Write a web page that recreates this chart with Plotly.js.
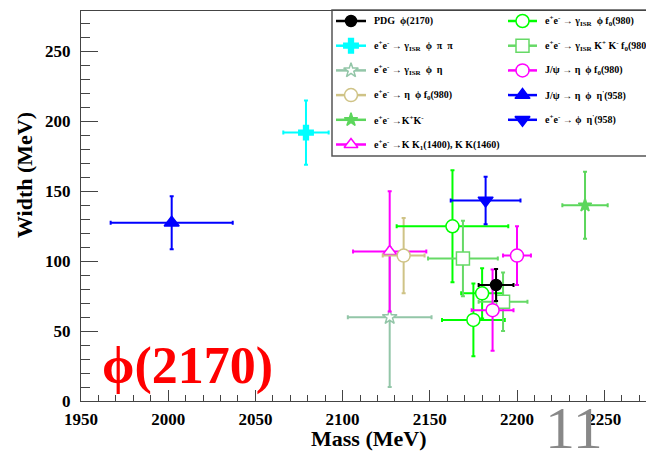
<!DOCTYPE html>
<html><head><meta charset="utf-8">
<script src="https://cdn.plot.ly/plotly-3.0.1.min.js"></script>
<style>html,body{margin:0;padding:0;background:#fff}#chart{width:646px;height:452px}</style>
</head><body><div id="chart"></div>
<script>
// ---- data (MeV) ----
const pdgMass = [2188], pdgWidth = [83], pdgMassErr = [10], pdgWidthErr = [11.5];
const isrPhiPiPiMass = [2079], isrPhiPiPiWidth = [192], isrPhiPiPiMassErr = [13], isrPhiPiPiWidthErr = [23];
const isrPhiEtaMass = [2127], isrPhiEtaWidth = [60], isrPhiEtaMassErr = [24], isrPhiEtaWidthErr = [50];
const etaPhiF0Mass = [2135], etaPhiF0Width = [104], etaPhiF0MassErr = [12], etaPhiF0WidthErr = [27];
const kkMass = [2239], kkWidth = [140], kkMassErr = [13], kkWidthErr = [24];
const kk1Mass = [2127], kk1Width = [107], kk1MassErr = [21], kk1WidthErr = [43];
const isrPhiF0Mass = [2163, 2180, 2175], isrPhiF0Width = [125, 77, 58], isrPhiF0MassErr = [32, 12, 18], isrPhiF0WidthErr = [40, 18, 26];
const isrKKF0Mass = [2169, 2192], isrKKF0Width = [102, 71], isrKKF0MassErr = [20, 14], isrKKF0WidthErr = [27, 21];
const jpsiEtaPhiF0Mass = [2200, 2186], jpsiEtaPhiF0Width = [104, 65], jpsiEtaPhiF0MassErr = [8, 12], jpsiEtaPhiF0WidthErr = [21, 29];
const jpsiEtaPhiEtapMass = [2002], jpsiEtaPhiEtapWidth = [127.5], jpsiEtaPhiEtapMassErr = [35], jpsiEtaPhiEtapWidthErr = [19];
const phiEtapMass = [2182], phiEtapWidth = [143.5], phiEtapMassErr = [20], phiEtapWidthErr = [17];

const xTickVals = [1950, 2000, 2050, 2100, 2150, 2200, 2250];
const xTickLabels = ['1950', '2000', '2050', '2100', '2150', '2200', '2250'];
const yTickVals = [0, 50, 100, 150, 200, 250];
const yTickLabels = ['0', '50', '100', '150', '200', '250'];

const PHI = '&#981;';
const legendLabels = [
  'PDG  ' + PHI + '(2170)',
  'e<sup>+</sup>e<sup>-</sup> &#8594; &#947;<sub>ISR</sub>  ' + PHI + '  &#960;  &#960;',
  'e<sup>+</sup>e<sup>-</sup> &#8594; &#947;<sub>ISR</sub>  ' + PHI + '  &#951;',
  'e<sup>+</sup>e<sup>-</sup> &#8594; &#951;  ' + PHI + ' f<sub>0</sub>(980)',
  'e<sup>+</sup>e<sup>-</sup> &#8594;K<sup>+</sup>K<sup>-</sup>',
  'e<sup>+</sup>e<sup>-</sup> &#8594;K K<sub>1</sub>(1400), K K(1460)',
  'e<sup>+</sup>e<sup>-</sup> &#8594; &#947;<sub>ISR</sub>  ' + PHI + ' f<sub>0</sub>(980)',
  'e<sup>+</sup>e<sup>-</sup> &#8594; &#947;<sub>ISR</sub> K<sup>+</sup> K<sup>-</sup> f<sub>0</sub>(980)',
  'J/&#968; &#8594; &#951;  ' + PHI + ' f<sub>0</sub>(980)',
  'J/&#968; &#8594; &#951;  ' + PHI + '  &#951;<sup>\'</sup>(958)',
  'e<sup>+</sup>e<sup>-</sup> &#8594; ' + PHI + '  &#951;<sup>\'</sup>(958)'
];

// ---- styling table built from the arrays ----
const series = [
  {m: isrPhiPiPiMass, w: isrPhiPiPiWidth, me: isrPhiPiPiMassErr, we: isrPhiPiPiWidthErr, c: '#00ffff', sym: 'cross', fill: '#00ffff', sz: 12, lab: 1, col: 0, row: 1},
  {m: isrPhiEtaMass, w: isrPhiEtaWidth, me: isrPhiEtaMassErr, we: isrPhiEtaWidthErr, c: '#93c6a8', sym: 'star', fill: '#ffffff', sz: 11, lab: 2, col: 0, row: 2},
  {m: kk1Mass, w: kk1Width, me: kk1MassErr, we: kk1WidthErr, c: '#ff00ff', sym: 'triangle-up', fill: '#ffffff', sz: 12, lab: 5, col: 0, row: 5},
  {m: etaPhiF0Mass, w: etaPhiF0Width, me: etaPhiF0MassErr, we: etaPhiF0WidthErr, c: '#cfc386', sym: 'circle', fill: '#ffffff', sz: 13, lab: 3, col: 0, row: 3},
  {m: kkMass, w: kkWidth, me: kkMassErr, we: kkWidthErr, c: '#5cd65c', sym: 'star', fill: '#5cd65c', sz: 10, lab: 4, col: 0, row: 4},
  {m: isrPhiF0Mass, w: isrPhiF0Width, me: isrPhiF0MassErr, we: isrPhiF0WidthErr, c: '#00ff00', sym: 'circle', fill: '#ffffff', sz: 13, lab: 6, col: 1, row: 0},
  {m: isrKKF0Mass, w: isrKKF0Width, me: isrKKF0MassErr, we: isrKKF0WidthErr, c: '#66d966', sym: 'square', fill: '#ffffff', sz: 13, lab: 7, col: 1, row: 1},
  {m: jpsiEtaPhiF0Mass, w: jpsiEtaPhiF0Width, me: jpsiEtaPhiF0MassErr, we: jpsiEtaPhiF0WidthErr, c: '#ff00ff', sym: 'circle', fill: '#ffffff', sz: 13, lab: 8, col: 1, row: 2},
  {m: jpsiEtaPhiEtapMass, w: jpsiEtaPhiEtapWidth, me: jpsiEtaPhiEtapMassErr, we: jpsiEtaPhiEtapWidthErr, c: '#0000ff', sym: 'triangle-up', fill: '#0000ff', sz: 13, lab: 9, col: 1, row: 3},
  {m: phiEtapMass, w: phiEtapWidth, me: phiEtapMassErr, we: phiEtapWidthErr, c: '#0000ff', sym: 'triangle-down', fill: '#0000ff', sz: 13, lab: 10, col: 1, row: 4},
  {m: pdgMass, w: pdgWidth, me: pdgMassErr, we: pdgWidthErr, c: '#000000', sym: 'circle', fill: '#000000', sz: 11, lab: 0, col: 0, row: 0}
];

// ---- geometry ----
const W = 646, H = 452, ML = 81, MR = 0, MT = 11, MB = 51;
const PW = W - ML - MR, PH = H - MT - MB;
const px = x => (x - ML) / PW;           // pixel -> paper
const py = y => (H - MB - y) / PH;
const FONT = '"Liberation Serif", "Times New Roman", serif';

const traces = [];
series.forEach(s => {
  traces.push({
    type: 'scatter', mode: 'markers', x: s.m, y: s.w, xaxis: 'x', yaxis: 'y',
    error_x: {type: 'data', array: s.me, visible: true, color: s.c, thickness: 2, width: 2},
    error_y: {type: 'data', array: s.we, visible: true, color: s.c, thickness: 2, width: 2},
    marker: {symbol: s.sym, size: s.sz, color: s.fill, line: {color: s.c, width: 1.5}},
    showlegend: false, hoverinfo: 'skip', cliponaxis: false
  });
});

// ---- hand-made two-column legend (on a pixel overlay axis) ----
const legCols = [{x0: 336, x1: 366, tx: 372}, {x0: 508, x1: 537, tx: 543}];
const legY0 = 21, legDY = 24.7;
const annotations = [];
series.forEach(s => {
  const lc = legCols[s.col], yy = legY0 + legDY * s.row;
  traces.push({type: 'scatter', mode: 'lines', x: [lc.x0, lc.x1], y: [yy, yy], xaxis: 'x2', yaxis: 'y2',
    line: {color: s.c, width: 2.5}, showlegend: false, hoverinfo: 'skip', cliponaxis: false});
  traces.push({type: 'scatter', mode: 'markers', x: [(lc.x0 + lc.x1) / 2], y: [yy], xaxis: 'x2', yaxis: 'y2',
    marker: {symbol: s.sym, size: s.sz, color: s.fill, line: {color: s.c, width: 1.5}},
    showlegend: false, hoverinfo: 'skip', cliponaxis: false});
  annotations.push({xref: 'paper', yref: 'paper', x: px(lc.tx), y: py(yy), xanchor: 'left', yanchor: 'middle',
    text: '<b>' + legendLabels[s.lab] + '</b>', showarrow: false, font: {family: FONT, size: 10, color: '#000'}});
});

annotations.push(
  {xref: 'paper', yref: 'paper', x: px(25), y: py(175), text: '<b>Width (MeV)</b>', textangle: -90, showarrow: false,
   xanchor: 'center', yanchor: 'middle', font: {family: FONT, size: 22, color: '#000'}},
  {xref: 'paper', yref: 'paper', x: px(368), y: py(438), text: '<b>Mass (MeV)</b>', showarrow: false,
   xanchor: 'center', yanchor: 'middle', font: {family: FONT, size: 22, color: '#000'}},
  {xref: 'paper', yref: 'paper', x: px(187), y: py(366), text: '<b>' + PHI + '(2170)</b>', showarrow: false,
   xanchor: 'center', yanchor: 'middle', font: {family: FONT, size: 52, color: '#ff0000'}},
  {xref: 'paper', yref: 'paper', x: px(574), y: py(428), text: '11', showarrow: false,
   xanchor: 'center', yanchor: 'middle', font: {family: FONT, size: 60, color: '#888888'}}
);

const axCommon = {
  showline: true, mirror: true, linecolor: '#444', linewidth: 1, showgrid: false, zeroline: false,
  ticks: 'inside', tickcolor: '#444', tickwidth: 1, tickmode: 'array',
  tickfont: {family: FONT, size: 17, color: '#000', weight: 'bold'}
};

const layout = {
  width: W, height: H, margin: {l: ML, r: MR, t: MT, b: MB, pad: 0},
  paper_bgcolor: '#fff', plot_bgcolor: '#fff', showlegend: false,
  xaxis: Object.assign({}, axCommon, {range: [1950, 1950 + PW / 1.744], ticklen: 11,
    tickvals: xTickVals, ticktext: xTickLabels.map(t => '<b>' + t + '</b>'),
    ticklabelstandoff: 3, minor: {ticks: 'inside', ticklen: 6, tick0: 1950, dtick: 10, tickcolor: '#444', showgrid: false}}),
  yaxis: Object.assign({}, axCommon, {range: [0, 279], ticklen: 17,
    tickvals: yTickVals, ticktext: yTickLabels.map(t => '<b>' + t + '</b>'),
    ticklabelstandoff: 6, minor: {ticks: 'inside', ticklen: 9, tick0: 0, dtick: 10, tickcolor: '#444', showgrid: false}}),
  xaxis2: {overlaying: 'x', anchor: 'y2', range: [ML, W - MR], visible: false, fixedrange: true},
  yaxis2: {overlaying: 'y', anchor: 'x2', range: [H - MB, MT], visible: false, fixedrange: true},
  shapes: [
    {type: 'rect', xref: 'paper', yref: 'paper', x0: px(332), x1: px(700), y0: py(156), y1: py(10),
     line: {color: '#555', width: 1.5}, fillcolor: '#ffffff', layer: 'below'}
  ],
  annotations: annotations
};

Plotly.newPlot('chart', traces, layout, {staticPlot: true, displayModeBar: false});
</script>
</body></html>
